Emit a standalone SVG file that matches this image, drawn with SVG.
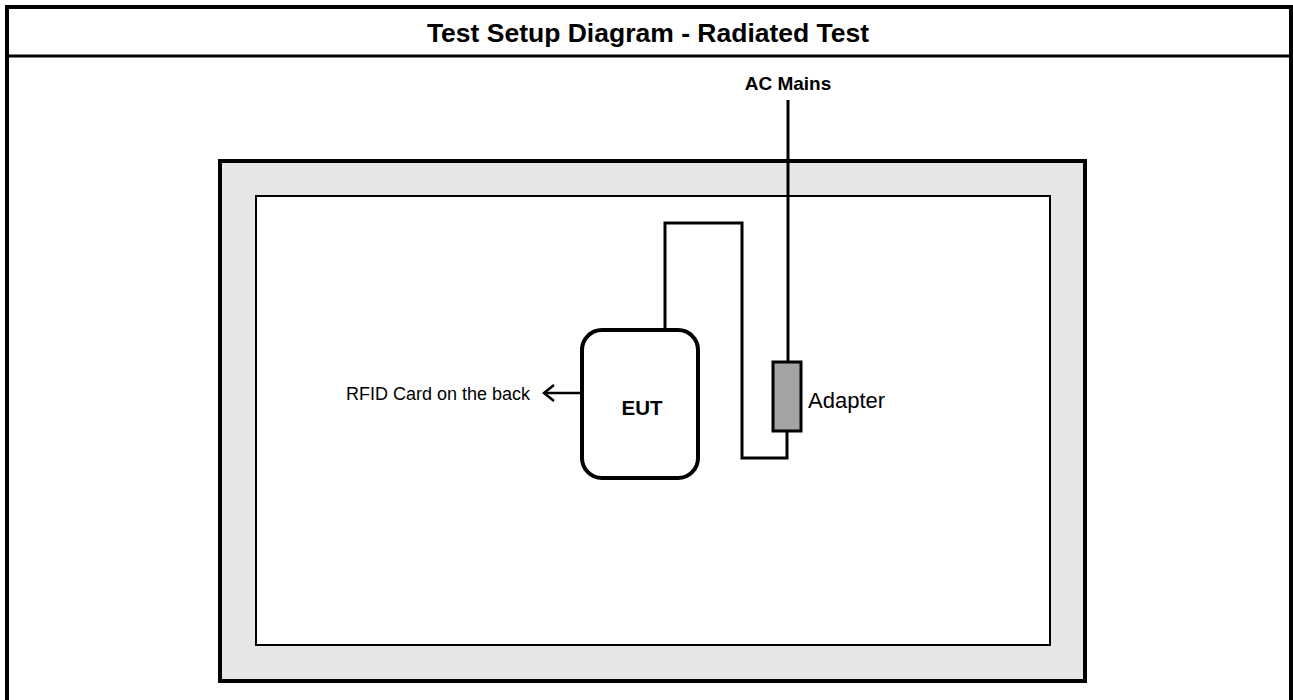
<svg xmlns="http://www.w3.org/2000/svg" width="1293" height="700" viewBox="0 0 1293 700">
<style>
text{font-family:"Liberation Sans",Arial,sans-serif;fill:#000}
.b{font-weight:bold}
.w{fill:none;stroke:#000;stroke-width:3}
</style>
<defs>
<marker id="chev" markerWidth="14" markerHeight="18" refX="12" refY="9" orient="auto" markerUnits="userSpaceOnUse">
<path d="M2,1 L12,9 L2,17" fill="none" stroke="#000" stroke-width="2.5"/>
</marker>
</defs>
<rect width="1293" height="700" fill="#fff"/>
<g id="frame">
<path d="M7,700 V7 H1291 V700" fill="none" stroke="#000" stroke-width="4"/>
<line x1="7" y1="56" x2="1291" y2="56" stroke="#000" stroke-width="3"/>
<text class="b" x="648" y="42" font-size="26.5" text-anchor="middle">Test Setup Diagram - Radiated Test</text>
</g>
<g id="table">
<rect x="220" y="161" width="865" height="520" fill="#e6e6e6" stroke="#000" stroke-width="4"/>
<rect x="256" y="196" width="794" height="449" fill="#fff" stroke="#000" stroke-width="2"/>
</g>
<g id="connectors">
<line class="w" x1="788" y1="100" x2="788" y2="362"/>
<path class="w" d="M665,330 V223 H742 V458 H787 V431"/>
<line x1="582" y1="393" x2="544" y2="393" stroke="#000" stroke-width="2.5" marker-end="url(#chev)"/>
</g>
<g id="ac-mains">
<text class="b" x="788" y="90" font-size="19" text-anchor="middle">AC Mains</text>
</g>
<g id="eut">
<rect x="582" y="330" width="116" height="148" rx="20" fill="#fff" stroke="#000" stroke-width="4"/>
<text class="b" x="642" y="415" font-size="20.5" text-anchor="middle">EUT</text>
</g>
<g id="adapter">
<rect x="773" y="362" width="28" height="69" fill="#a3a3a3" stroke="#000" stroke-width="3"/>
<text x="808" y="408" font-size="22">Adapter</text>
</g>
<g id="rfid">
<text x="530" y="400" font-size="18" text-anchor="end">RFID Card on the back</text>
</g>
</svg>
